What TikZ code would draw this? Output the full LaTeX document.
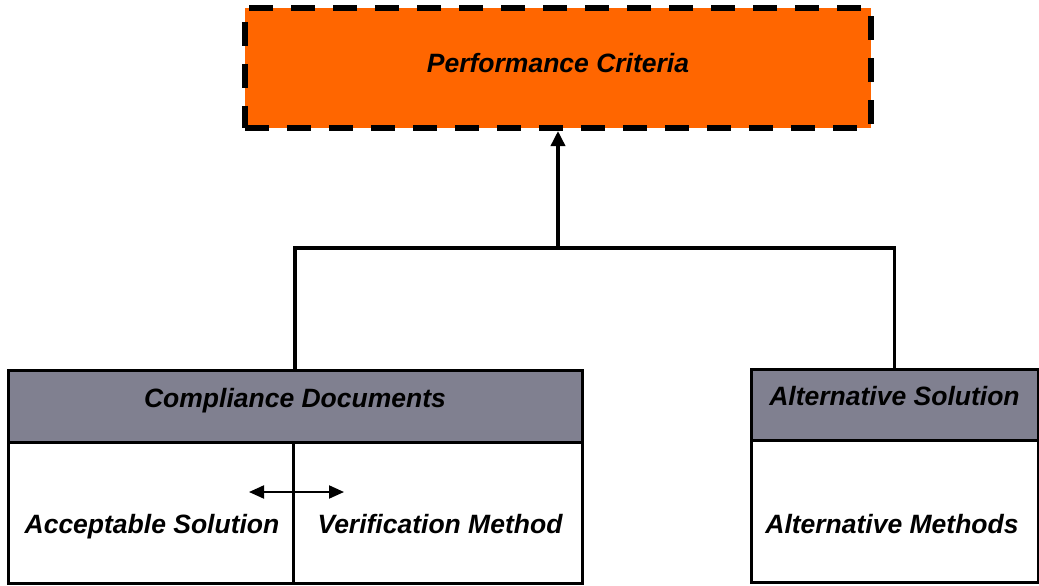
\documentclass[tikz,border=0pt]{standalone}
\usepackage{fontspec}
\setmainfont{Liberation Sans}
\usetikzlibrary{arrows.meta}
\definecolor{pcorange}{RGB}{255,102,0}
\definecolor{hdrgray}{RGB}{128,128,144}
\tikzset{
  txt/.style={font=\fontsize{26.5}{30}\selectfont\bfseries\itshape},
  box/.style={draw=black, line width=3pt, inner sep=0pt, outer sep=0pt, txt},
  hdr/.style={box, fill=hdrgray},
  cell/.style={box, fill=white},
  lbl/.style={txt, inner sep=0pt, anchor=base},
  pcbox/.style={draw=black, fill=pcorange, line width=6pt, dash pattern=on 24pt off 18pt,
     inner sep=0pt, txt, text height=19pt, text depth=9pt},
  conn/.style={draw=black, line width=3.5pt},
  uparrow/.style={conn, -{Triangle[length=15pt,width=14pt]}},
  dblarrow/.style={draw=black, line width=2pt, {Triangle[length=15pt,width=13pt]}-{Triangle[length=15pt,width=13pt]}}
}
\begin{document}
\begin{tikzpicture}[x=1pt,y=-1pt]
\useasboundingbox (0,0) rectangle (1039,586);
% top box
\node[pcbox, minimum width=626pt, minimum height=120pt] (pc) at (558,68) {Performance Criteria};
% left box
\node[hdr, minimum width=574pt, minimum height=72pt, text height=19pt, text depth=17pt] (cd) at (295,406) {Compliance Documents};
\node[cell, minimum width=285pt, minimum height=141pt] (acs) at (150.5,512.5) {};
\node[cell, minimum width=289pt, minimum height=141pt] (vmc) at (437.5,512.5) {};
\node[lbl] (acst) at (152,533) {Acceptable Solution};
\node[lbl] (vmct) at (440,533) {Verification Method};
% right box
\node[hdr, minimum width=287pt, minimum height=71pt, text height=19pt, text depth=18pt] (alt) at (894.5,404.5) {Alternative Solution};
\node[cell, minimum width=287pt, minimum height=142pt] (am) at (894.5,511) {};
\node[lbl] (amt) at (892,533) {Alternative Methods};
% connectors
\coordinate (j) at (558,248);
\draw[conn] (cd.north) |- (j) -| (alt.north);
\draw[uparrow] (j) -- (j |- pc.south);
\coordinate (dl) at (249,492);
\coordinate (dr) at (344,492);
\draw[dblarrow] (dl) -- (dr);
\end{tikzpicture}
\end{document}
